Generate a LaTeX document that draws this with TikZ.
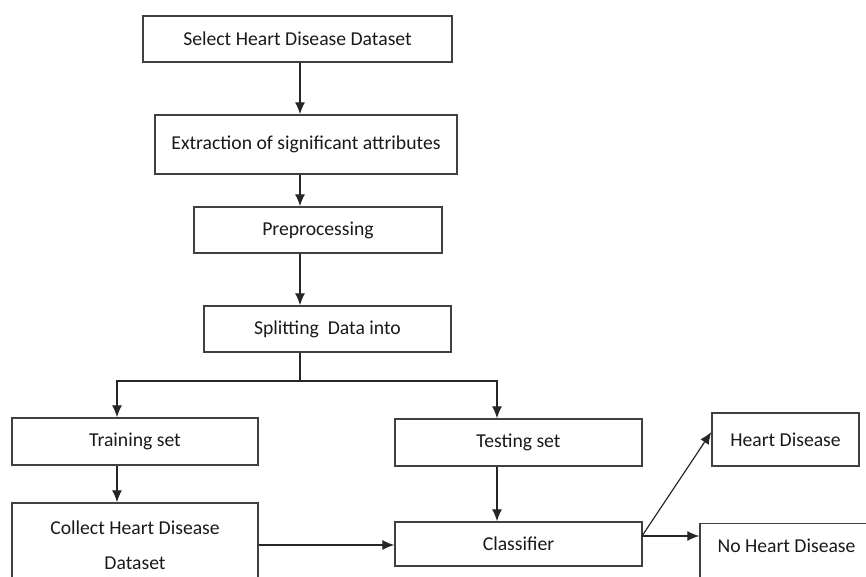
\documentclass[tikz,border=0pt]{standalone}
\usepackage{fontspec}
\setmainfont{Carlito}
\usetikzlibrary{arrows.meta}

\tikzset{
  stage/.style={draw=black!75, line width=0.8pt, inner sep=0pt, align=center,
    text=black!90, font=\fontsize{11.2}{20}\selectfont},
  flow/.style={-{Latex[length=2.4mm,width=2mm]}, line width=0.7pt, draw=black!85},
}

\begin{document}
\begin{tikzpicture}[x=0.02cm, y=-0.02cm]
  \clip (0,0) rectangle (866,577);
  % main column
  \node[stage, minimum width=6.18cm, minimum height=0.92cm] (sel) at (297.5,39) {Select Heart Disease Dataset};
  \node[stage, minimum width=6.04cm, minimum height=1.18cm] (ext) at (306,144.5) {Extraction of significant attributes};
  \node[stage, minimum width=4.96cm, minimum height=0.92cm] (pre) at (318,230) {Preprocessing};
  \node[stage, minimum width=4.94cm, minimum height=0.92cm] (split) at (327.5,329) {Splitting\ \ Data into};
  % two branches
  \node[stage, minimum width=4.92cm, minimum height=0.94cm] (train) at (135,441.5) {Training set};
  \node[stage, minimum width=4.94cm, minimum height=0.94cm] (test) at (518.5,442.5) {Testing set};
  \node[stage, minimum width=4.92cm, minimum height=1.68cm] (collect) at (135,545) {Collect Heart Disease\\Dataset};
  \node[stage, minimum width=4.94cm, minimum height=0.88cm] (clf) at (518.5,544) {Classifier};
  % outcomes
  \node[stage, minimum width=2.94cm, minimum height=1.06cm] (hd) at (785.5,439.5) {Heart Disease};
  \node[stage, anchor=north, minimum width=3.46cm, text height=0.58cm, text depth=0.8cm] (nhd) at (786.5,523) {No Heart Disease};

  \coordinate (spine) at (300,0);
  \coordinate (fork) at (300,381);
  \coordinate (lbranch) at (117,381);
  \coordinate (rbranch) at (497,381);
  \coordinate (dec) at (642,536);

  \draw[flow] (sel.south -| spine) -- (ext.north -| spine);
  \draw[flow] (ext.south -| spine) -- (pre.north -| spine);
  \draw[flow] (pre.south -| spine) -- (split.north -| spine);
  \draw[flow, -] (split.south -| spine) -- (fork);
  \draw[flow] (fork) -- (lbranch) -- (lbranch |- train.north);
  \draw[flow] (fork) -- (rbranch) -- (rbranch |- test.north);
  \draw[flow] (train.south -| lbranch) -- (lbranch |- collect.north);
  \draw[flow] (test.south -| rbranch) -- (rbranch |- clf.north);
  \draw[flow] (collect.east) -- (collect.east -| clf.west);
  \draw[flow] (dec) -- ([yshift=0.15cm]hd.west);
  \draw[flow] (dec) -- (dec -| nhd.west);
\end{tikzpicture}
\end{document}
